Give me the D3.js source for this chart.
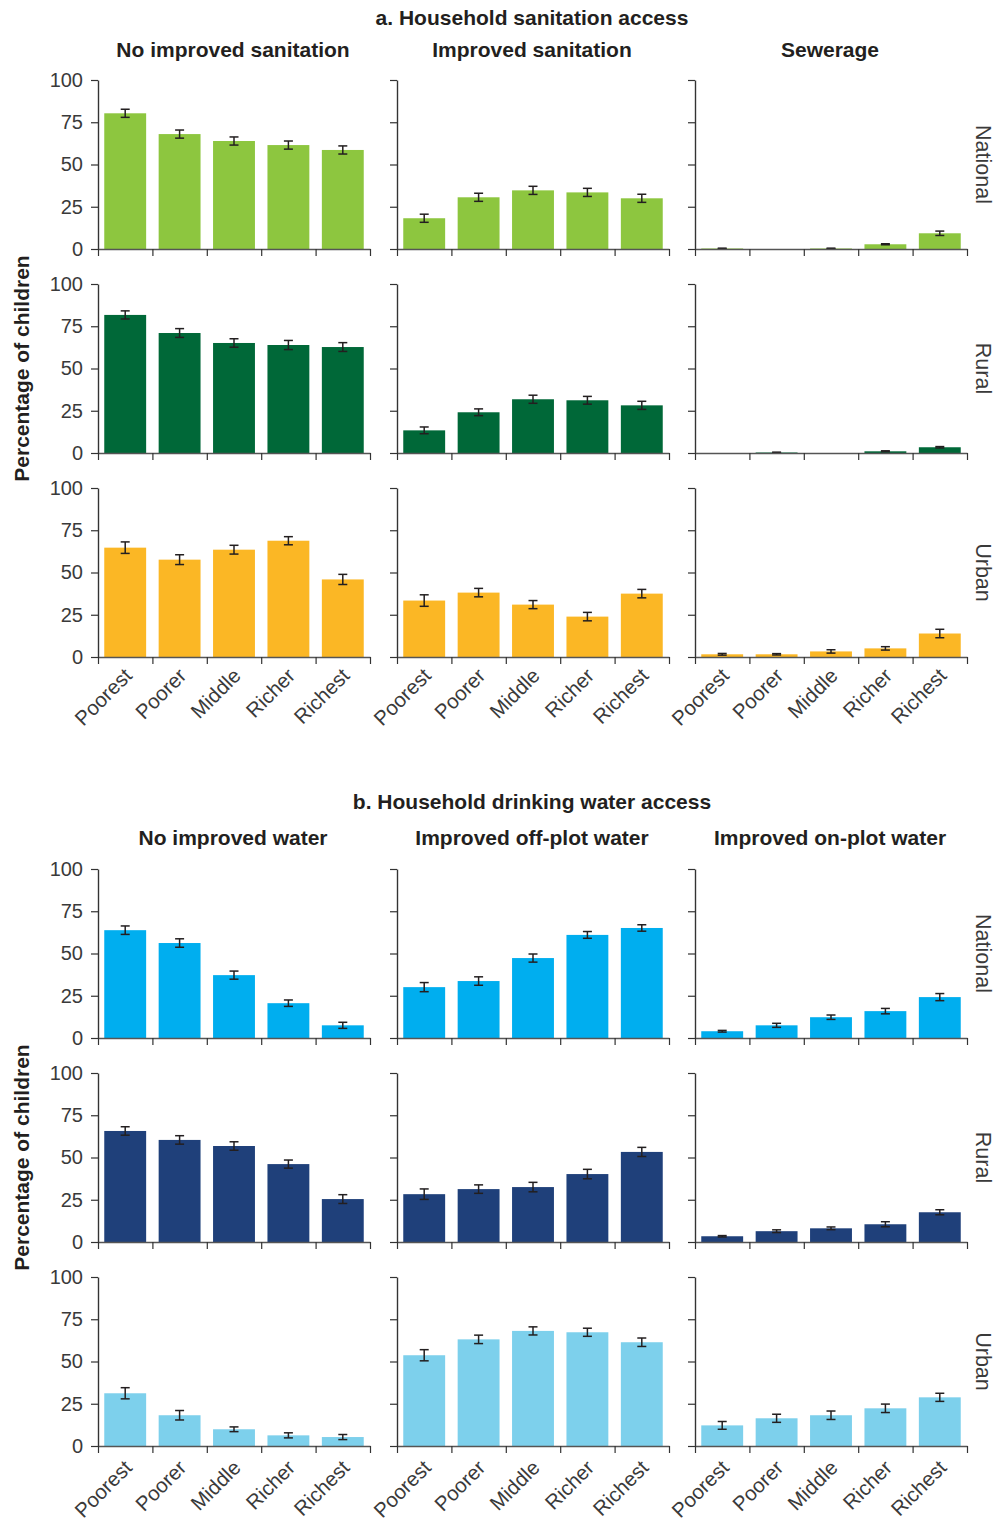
<!DOCTYPE html>
<html>
<head>
<meta charset="utf-8">
<script src="https://cdn.jsdelivr.net/npm/d3@7"></script>
<style>
  html, body { margin: 0; padding: 0; background: #fff; }
  svg { display: block; font-family: "Liberation Sans", Arial, Helvetica, sans-serif; }
</style>
</head>
<body>
<svg id="chart" width="1003" height="1526"></svg>
<script>
// Wealth quintiles on the x axis and shared percentage ticks
const categories = ["Poorest", "Poorer", "Middle", "Richer", "Richest"];
const yTicks = [0, 25, 50, 75, 100];
const areas = ["National", "Rural", "Urban"];

// a. Household sanitation access
const sanitationTitle = "a. Household sanitation access";
const sanitationColumns = ["No improved sanitation", "Improved sanitation", "Sewerage"];
const sanitationNational = [
  [80.3, 68.0, 63.9, 61.5, 58.6],
  [18.2, 30.6, 34.7, 33.5, 30.0],
  [0.3, 0, 0.3, 2.8, 9.3]
];
const sanitationNationalErr = [
  [2.4, 2.4, 2.4, 2.4, 2.4],
  [2.4, 2.4, 2.4, 2.4, 2.4],
  [0.2, 0, 0.2, 0.3, 1.3]
];
const sanitationRural = [
  [81.7, 71.0, 65.1, 63.9, 62.7],
  [13.4, 24.1, 31.8, 31.2, 28.2],
  [0, 0.3, 0, 1.0, 3.4]
];
const sanitationRuralErr = [
  [2.4, 2.6, 2.5, 2.7, 2.6],
  [2.0, 2.0, 2.4, 2.3, 2.4],
  [0, 0.2, 0, 0.3, 0.4]
];
const sanitationUrban = [
  [64.7, 57.6, 63.5, 68.8, 45.9],
  [33.4, 38.1, 31.0, 23.9, 37.5],
  [1.6, 1.6, 3.3, 5.1, 13.9]
];
const sanitationUrbanErr = [
  [3.4, 2.9, 2.6, 2.4, 3.0],
  [3.4, 2.5, 2.4, 2.5, 2.5],
  [0.5, 0.4, 1.0, 1.0, 2.5]
];
const sanitationColors = ["#8dc63f", "#006838", "#fbb725"];

// b. Household drinking water access
const waterTitle = "b. Household drinking water access";
const waterColumns = ["No improved water", "Improved off-plot water", "Improved on-plot water"];
const waterNational = [
  [63.8, 56.2, 37.2, 20.6, 7.5],
  [30.1, 33.7, 47.3, 61.0, 65.1],
  [4.0, 7.5, 12.3, 15.9, 24.2]
];
const waterNationalErr = [
  [2.5, 2.5, 2.4, 1.9, 1.8],
  [2.7, 2.5, 2.4, 2.0, 1.9],
  [0.5, 1.2, 1.3, 1.6, 2.1]
];
const waterRural = [
  [65.7, 60.4, 56.8, 46.1, 25.4],
  [28.3, 31.3, 32.5, 40.2, 53.3],
  [3.4, 6.4, 8.1, 10.5, 17.6]
];
const waterRuralErr = [
  [2.5, 2.5, 2.5, 2.4, 2.6],
  [3.1, 2.5, 2.8, 2.8, 2.7],
  [0.4, 0.8, 0.8, 1.5, 1.5]
];
const waterUrban = [
  [31.2, 18.2, 9.9, 6.3, 5.3],
  [53.7, 63.1, 68.1, 67.3, 61.4],
  [12.2, 16.4, 18.2, 22.3, 28.8]
];
const waterUrbanErr = [
  [3.3, 2.8, 1.4, 1.5, 1.5],
  [3.3, 2.5, 2.4, 2.4, 2.5],
  [2.3, 2.4, 2.5, 2.5, 2.4]
];
const waterColors = ["#00aeef", "#1f407a", "#7dd0ec"];

// ---- layout ----
const svg = d3.select("#chart");
const colLeft = [98, 397, 695];
const colWidth = 272;
const rowHeight = 169;
const textColor = "#231f20";
const tickColor = "#3a3a3a";

const sections = [
  {
    title: sanitationTitle, titleY: 25, colTitleY: 57, rowTops: [80, 284, 488], labelDrop: 20,
    columns: sanitationColumns, colors: sanitationColors,
    values: [sanitationNational, sanitationRural, sanitationUrban],
    errors: [sanitationNationalErr, sanitationRuralErr, sanitationUrbanErr]
  },
  {
    title: waterTitle, titleY: 809, colTitleY: 845, rowTops: [869, 1073, 1277], labelDrop: 23,
    columns: waterColumns, colors: waterColors,
    values: [waterNational, waterRural, waterUrban],
    errors: [waterNationalErr, waterRuralErr, waterUrbanErr]
  }
];

sections.forEach(sec => {
  svg.append("text")
    .attr("x", 532).attr("y", sec.titleY)
    .attr("text-anchor", "middle")
    .attr("font-size", 21).attr("font-weight", "bold")
    .attr("fill", textColor)
    .text(sec.title);

  sec.columns.forEach((c, ci) => {
    svg.append("text")
      .attr("x", colLeft[ci] + colWidth / 2 - 1).attr("y", sec.colTitleY)
      .attr("text-anchor", "middle")
      .attr("font-size", 21).attr("font-weight", "bold")
      .attr("fill", textColor)
      .text(c);
  });

  // y axis title, centred on the middle row
  const midY = sec.rowTops[1] + rowHeight / 2;
  svg.append("text")
    .attr("transform", `translate(29,${midY}) rotate(-90)`)
    .attr("text-anchor", "middle")
    .attr("font-size", 21).attr("font-weight", "bold")
    .attr("fill", textColor)
    .text("Percentage of children");

  sec.rowTops.forEach((top, ri) => {
    const y = d3.scaleLinear().domain([0, 100]).range([top + rowHeight, top]);

    // row label on the right
    svg.append("text")
      .attr("transform", `translate(976,${top + rowHeight / 2}) rotate(90)`)
      .attr("text-anchor", "middle")
      .attr("font-size", 21.5)
      .attr("fill", tickColor)
      .text(areas[ri]);

    sec.columns.forEach((c, ci) => {
      const x0 = colLeft[ci];
      const x = d3.scaleBand().domain(categories).range([x0, x0 + colWidth]).padding(0);
      const edges = d3.scaleLinear().domain([0, categories.length]).range([x0, x0 + colWidth]);
      const g = svg.append("g");

      const vals = sec.values[ri][ci];
      const errs = sec.errors[ri][ci];
      const bw = x.bandwidth() * 0.77;

      // bars
      g.selectAll("rect").data(categories).join("rect")
        .attr("x", d => x(d) + (x.bandwidth() - bw) / 2)
        .attr("width", bw)
        .attr("y", (d, i) => y(vals[i]))
        .attr("height", (d, i) => y(0) - y(vals[i]))
        .attr("fill", sec.colors[ri]);

      // error bars
      const eb = g.append("g").attr("stroke", "#231f20").attr("stroke-width", 1.5).attr("fill", "none");
      categories.forEach((d, i) => {
        if (!errs[i]) return;
        const cx = x(d) + x.bandwidth() / 2;
        const lo = y(Math.max(0, vals[i] - errs[i]));
        const hi = y(vals[i] + errs[i]);
        eb.append("line").attr("x1", cx).attr("x2", cx).attr("y1", lo).attr("y2", hi);
        eb.append("line").attr("x1", cx - 4.5).attr("x2", cx + 4.5).attr("y1", lo).attr("y2", lo);
        eb.append("line").attr("x1", cx - 4.5).attr("x2", cx + 4.5).attr("y1", hi).attr("y2", hi);
      });

      // y axis
      const ya = g.append("g")
        .attr("transform", `translate(${x0},0)`)
        .call(d3.axisLeft(y).tickValues(yTicks).tickSize(7).tickSizeOuter(0).tickPadding(8)
          .tickFormat(ci === 0 ? d3.format("d") : () => ""));
      ya.select(".domain").attr("stroke", "#333").attr("stroke-width", 1.4);
      ya.selectAll(".tick line").attr("stroke", "#333").attr("stroke-width", 1.2);
      ya.selectAll(".tick text")
        .attr("font-size", 20).attr("fill", tickColor)
        .attr("font-family", "Liberation Sans, Arial, sans-serif");

      // x axis with ticks at the band edges
      const xa = g.append("g")
        .attr("transform", `translate(0,${y(0)})`)
        .call(d3.axisBottom(edges).tickValues(d3.range(categories.length + 1)).tickSize(7).tickSizeOuter(0).tickFormat(""));
      xa.select(".domain").attr("stroke", "#555").attr("stroke-width", 1.4);
      xa.selectAll(".tick line").attr("stroke", "#333").attr("stroke-width", 1.2);

      // category labels under the bottom row
      if (ri === sec.rowTops.length - 1) {
        g.selectAll("text.cat").data(categories).join("text")
          .attr("class", "cat")
          .attr("transform", d => `translate(${x(d) + x.bandwidth() / 2 + 8},${y(0) + sec.labelDrop}) rotate(-45)`)
          .attr("text-anchor", "end")
          .attr("font-size", 20.5)
          .attr("fill", tickColor)
          .text(d => d);
      }
    });
  });
});
</script>
</body>
</html>
